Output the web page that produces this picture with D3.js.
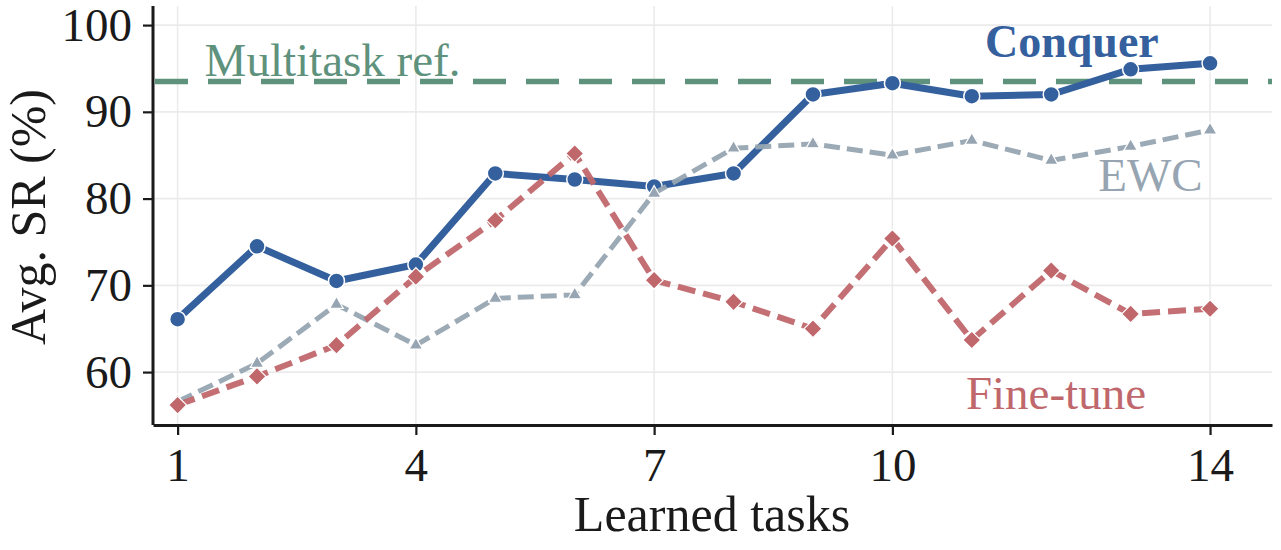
<!DOCTYPE html>
<html>
<head>
<meta charset="utf-8">
<script src="https://cdn.jsdelivr.net/npm/d3@7"></script>
<style>
  body { margin: 0; background: #fff; }
  text { font-family: "Liberation Serif", "DejaVu Serif", serif; }
</style>
</head>
<body>
<div id="chart"></div>
<script>
// data
var tasks = [1, 2, 3, 4, 5, 6, 7, 8, 9, 10, 11, 12, 13, 14];
var conquer = [66.1, 74.5, 70.5, 72.4, 82.9, 82.2, 81.4, 82.9, 92.0, 93.3, 91.8, 92.0, 94.9, 95.6];
var ewc = [56.6, 61.0, 67.8, 63.1, 68.5, 68.9, 80.6, 85.8, 86.3, 85.0, 86.7, 84.4, 86.0, 87.9];
var finetune = [56.2, 59.5, 63.1, 71.0, 77.5, 85.2, 70.6, 68.1, 65.0, 75.4, 63.7, 71.7, 66.7, 67.3];
var multitaskRef = 93.5;
var xTicks = [1, 4, 7, 10, 14];
var yTicks = [60, 70, 80, 90, 100];

var svgWidth = 1281;
var svgHeight = 550;

var svg = d3.select("#chart")
    .append("svg")
    .attr("width", svgWidth)
    .attr("height", svgHeight);

var x = d3.scaleLinear().domain([0.69, 14.78]).range([153, 1272]);
var y = d3.scaleLinear().domain([53.9, 102.2]).range([425, 6]);

// grid
svg.append("g").selectAll("line").data(yTicks).enter().append("line")
    .attr("x1", x.range()[0]).attr("x2", x.range()[1])
    .attr("y1", d => y(d)).attr("y2", d => y(d))
    .attr("stroke", "#ebebeb").attr("stroke-width", 1.6);
svg.append("g").selectAll("line").data(xTicks).enter().append("line")
    .attr("x1", d => x(d)).attr("x2", d => x(d))
    .attr("y1", y.range()[0]).attr("y2", y.range()[1])
    .attr("stroke", "#ebebeb").attr("stroke-width", 1.6);

// multitask reference line
svg.append("line")
    .attr("x1", x.range()[0] + 2).attr("x2", x.range()[1])
    .attr("y1", y(multitaskRef)).attr("y2", y(multitaskRef))
    .attr("stroke", "#5e927c").attr("stroke-width", 5.5)
    .attr("stroke-dasharray", "33,20");

var line = d3.line().x((d, i) => x(tasks[i])).y(d => y(d));

// Conquer
svg.append("path").datum(conquer)
    .attr("d", line).attr("fill", "none")
    .attr("stroke", "#34609e").attr("stroke-width", 7)
    .attr("stroke-linejoin", "round");
svg.append("g").selectAll("circle").data(conquer).enter().append("circle")
    .attr("cx", (d, i) => x(tasks[i])).attr("cy", d => y(d))
    .attr("r", 8).attr("fill", "#34609e")
    .attr("stroke", "#fff").attr("stroke-width", 1.5);

// EWC
svg.append("path").datum(ewc)
    .attr("d", line).attr("fill", "none")
    .attr("stroke", "#97a5b2").attr("stroke-width", 5)
    .attr("stroke-dasharray", "16,7").attr("opacity", 0.95);
svg.append("g").selectAll("path").data(ewc).enter().append("path")
    .attr("d", d3.symbol().type(d3.symbolTriangle).size(80))
    .attr("transform", (d, i) => `translate(${x(tasks[i])},${y(d)})`)
    .attr("fill", "#97a5b2").attr("stroke", "#fff").attr("stroke-width", 1.2);

// Fine-tune
svg.append("path").datum(finetune)
    .attr("d", line).attr("fill", "none")
    .attr("stroke", "#c0676c").attr("stroke-width", 6)
    .attr("stroke-dasharray", "18,8").attr("opacity", 0.95);
svg.append("g").selectAll("path").data(finetune).enter().append("path")
    .attr("d", d3.symbol().type(d3.symbolSquare).size(160))
    .attr("transform", (d, i) => `translate(${x(tasks[i])},${y(d)}) rotate(45)`)
    .attr("fill", "#c0676c").attr("stroke", "#fff").attr("stroke-width", 1.2);

// axes
var bottomAxis = d3.axisBottom(x).tickValues(xTicks).tickSize(10).tickSizeOuter(0);
var leftAxis = d3.axisLeft(y).tickValues(yTicks).tickSize(10).tickSizeOuter(0).tickPadding(11);

var gx = svg.append("g")
    .attr("transform", `translate(0, ${y.range()[0]})`)
    .call(bottomAxis);
var gy = svg.append("g")
    .attr("transform", `translate(${x.range()[0]}, 0)`)
    .call(leftAxis);

[gx, gy].forEach(function (g) {
    g.select(".domain").attr("stroke", "#1a1a1a").attr("stroke-width", 3);
    g.selectAll(".tick line").attr("stroke", "#1a1a1a").attr("stroke-width", 2.2);
    g.selectAll(".tick text")
        .attr("fill", "#1a1a1a")
        .style("font-family", "'Liberation Serif', 'DejaVu Serif', serif")
        .style("font-size", "47px");
});
gx.selectAll(".tick text").attr("y", 56).attr("dy", null);
gy.select(".domain").attr("d", `M0,${y.range()[0]}V${y.range()[1]}`);

// axis labels
svg.append("text")
    .attr("x", 712).attr("y", 531)
    .attr("text-anchor", "middle")
    .attr("font-size", "50px").attr("fill", "#1a1a1a")
    .text("Learned tasks");

svg.append("text")
    .attr("transform", "translate(45, 217) rotate(-90)")
    .attr("text-anchor", "middle")
    .attr("font-size", "50px").attr("fill", "#1a1a1a")
    .text("Avg. SR (%)");

// series labels
svg.append("text")
    .attr("x", x(1.34)).attr("y", y(94.1))
    .attr("font-size", "47px").attr("fill", "#5e927c")
    .text("Multitask ref.");

svg.append("text")
    .attr("x", x(12.26)).attr("y", y(96.3))
    .attr("text-anchor", "middle")
    .attr("font-size", "46px").attr("font-weight", "bold").attr("fill", "#34609e")
    .text("Conquer");

svg.append("text")
    .attr("x", x(13.25)).attr("y", y(80.9))
    .attr("text-anchor", "middle")
    .attr("font-size", "47px").attr("fill", "#97a5b2")
    .text("EWC");

svg.append("text")
    .attr("x", x(12.06)).attr("y", y(55.7))
    .attr("text-anchor", "middle")
    .attr("font-size", "47px").attr("fill", "#c0676c")
    .text("Fine-tune");
</script>
</body>
</html>
